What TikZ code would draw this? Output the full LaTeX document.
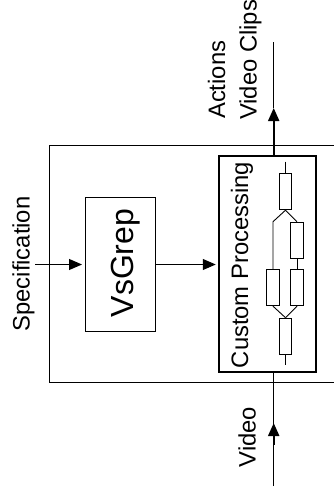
\documentclass[tikz,border=0pt]{standalone}
\usepackage{fontspec}
\setmainfont{Liberation Sans}
\usetikzlibrary{arrows.meta}
\begin{document}
\begin{tikzpicture}[x=1pt,y=-1pt,
  thinline/.style={line width=1pt},
  boldline/.style={line width=2pt},
  tip/.style={-{Triangle[length=13pt,width=11pt]}},
  lbl/.style={rotate=90, anchor=base, inner sep=0pt, font=\fontsize{23.8pt}{30pt}\selectfont},
  blockbox/.style={draw, line width=1pt, inner sep=0pt},
  res/.style={draw, line width=0.9pt, minimum width=12.5pt, minimum height=36pt, inner sep=0pt, anchor=north},
]
\useasboundingbox (0,0) rectangle (334,496);

% outer frame
\draw[thinline] (334,145) -- (49,145) -- (49,382) -- (334,382);

% blocks
\node[blockbox, minimum width=70pt, minimum height=134pt] (vsgrep) at (120,264.5) {};
\node[lbl, font=\fontsize{32pt}{36pt}\selectfont] (vslbl) at (133,263) {VsGrep};
\node[draw, line width=2.5pt, inner sep=0pt, minimum width=97pt, minimum height=216pt] (custom) at (267.5,264) {};
\node[lbl] (cplbl) at (248,265) {Custom Processing};

% labels
\node[lbl] (spec) at (29.5,264) {Specification};
\node[lbl] (vidlbl) at (255.5,437) {Video};
\node[lbl, anchor=base west] (actlbl) at (225,119) {Actions};
\node[lbl, anchor=base west] (cliplbl) at (256.5,120) {Video Clips};

% connector coordinates
\coordinate (specstart) at (35,264.5);
\coordinate (out) at (273.7,42);
\coordinate (outtip) at (273.7,108);
\coordinate (vin) at (273.7,486);
\coordinate (vinstem) at (273.7,445);
\coordinate (vintip) at (273.7,423);

% connectors
\draw[thinline, tip, shorten >=2.5pt] (specstart) -- (vsgrep.west);
\draw[thinline, tip, shorten >=2pt] (vsgrep.east) -- (vsgrep.east -| custom.west);
\draw[boldline, tip] (custom.north -| out) -- (outtip);
\draw[thinline] (outtip) -- (out);
\draw[thinline] (vin) -- (custom.south -| vin);
\draw[boldline, tip] (vinstem) -- (vintip);

% inner circuit
\node[res] (r1) at (285.5,173.3) {};
\node[res] (r2) at (297,221.7) {};
\node[res] (r3) at (273,269.3) {};
\node[res] (r4) at (297,269.3) {};
\node[res] (r5) at (285.5,317.7) {};
\coordinate (ctop) at (285.5,161.7);
\coordinate (cbot) at (285.5,365);
\coordinate (lbr) at (273,221.7);
\draw[line width=0.9pt] (ctop) -- (r1.north);
\draw[line width=0.9pt] (r1.south) -- (lbr) -- (r3.north);
\draw[line width=0.9pt] (r1.south) -- (r2.north);
\draw[line width=0.9pt] (r2.south) -- (r4.north);
\draw[line width=0.9pt] (r3.south) -- (r5.north);
\draw[line width=0.9pt] (r4.south) -- (r5.north);
\draw[line width=0.9pt] (r5.south) -- (cbot);
\end{tikzpicture}
\end{document}
